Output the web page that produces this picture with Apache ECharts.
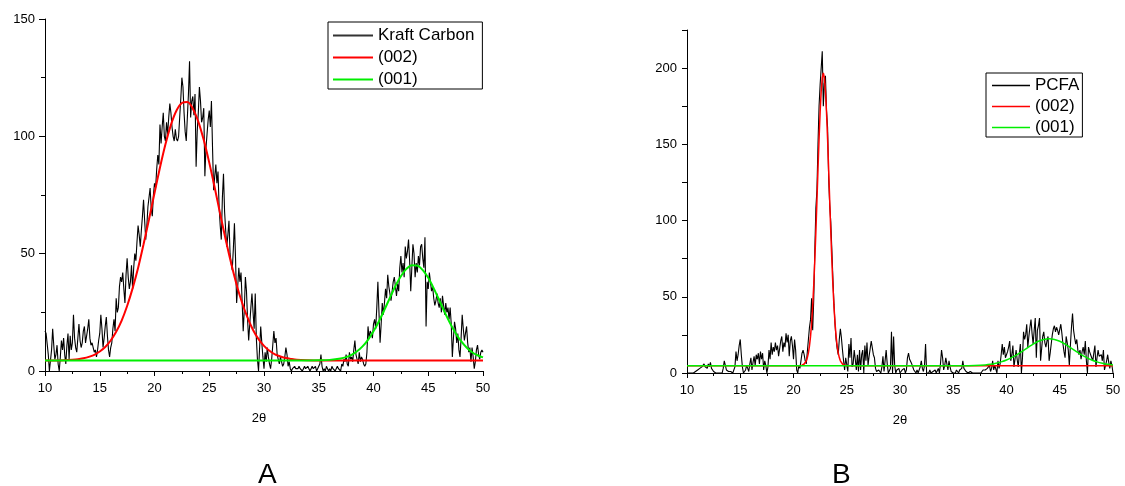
<!DOCTYPE html>
<html>
<head>
<meta charset="utf-8">
<script src="https://cdn.jsdelivr.net/npm/echarts@6/dist/echarts.min.js"></script>
<style>
html,body{margin:0;padding:0;background:#fff;}
#chart{width:1125px;height:486px;}
</style>
</head>
<body>
<div id="chart"></div>
<script>
// ---- Data ----
const X_START = 10;
const X_STEP = 0.1;

// Chart A: Kraft Carbon raw pattern (2θ = 10.0 ... 50.0, step 0.1)
const kraftY = [
17,16,16,7,0,0,9,18,11,5,
7,11,3,0,6,13,9,14,7,3,
11,16,5,15,9,12,24,14,10,8,
14,20,13,10,12,17,19,12,15,18,
22,14,11,12,10,8,9,6,9,13,
16,24,18,10,14,19,23,15,9,6,
10,12,18,22,17,31,25,27,36,40,
38,42,35,29,41,48,40,35,38,45,
35,44,50,47,55,62,58,53,60,66,
73,64,56,62,70,74,78,69,66,75,
80,78,86,92,88,105,97,104,110,100,
98,106,101,108,114,110,104,100,98,103,
99,98,100,108,116,125,121,110,102,98,
108,118,132,108,115,117,109,118,87,102,
110,121,115,106,108,112,83,95,101,107,
111,104,115,95,77,83,88,80,85,70,
62,56,74,84,68,60,53,58,64,50,
46,43,52,63,48,29,36,44,38,42,
30,17,26,40,34,22,13,20,27,33,
25,18,33,14,5,0,10,19,12,6,
1,8,4,10,6,3,1,5,11,17,
12,14,7,5,3,6,4,2,3,6,
10,7,2,4,1,0,1,1,2,1,
1,1,2,1,1,0,1,2,1,1,
2,1,0,1,2,1,1,2,0,1,
2,3,7,2,0,1,0,2,1,0,
1,0,2,1,1,0,0,2,1,1,
0,3,2,5,4,7,3,2,8,5,
6,4,9,13,7,5,3,8,4,6,
5,3,2,3,8,19,14,17,16,14,
20,22,18,27,38,25,12,20,29,24,
29,35,31,41,36,33,30,34,38,40,
36,32,37,34,44,49,42,46,40,53,
48,51,56,47,34,44,54,50,40,46,
42,49,45,53,54,48,44,57,19,38,
35,42,38,34,36,31,28,30,33,29,
27,31,25,32,28,24,29,25,27,22,
27,20,6,14,21,18,12,16,9,6,
14,24,18,13,16,19,12,8,10,4,
10,6,1,4,9,11,7,5,8,9,
8
];

// Chart A fits
const fitA002X = [10,11,12,12.5,13,13.5,14,14.5,15,15.5,16,16.5,17,17.5,18,18.5,19,19.5,20,20.5,21,21.5,22,22.5,23,23.5,24,24.5,25,25.5,26,26.5,27,27.5,28,28.5,29,29.5,30,30.5,31,31.5,32,32.5,33,34,35,40,45,50];
const fitA002Y = [4.5,4.5,4.7,4.8,5.0,5.4,6.0,6.9,8.3,10.2,13.0,16.7,21.5,27.7,35.2,43.9,54.0,64.7,75.8,86.7,96.6,104.9,110.9,114.2,114.6,111.8,106.3,98.4,88.8,78.1,66.9,56.0,45.9,36.8,29.1,22.7,17.5,13.6,10.7,8.6,7.1,6.2,5.5,5.1,4.8,4.6,4.5,4.5,4.5,4.5];
const fitA001X = [10,20,30,34,35,36,37,37.5,38,38.5,39,39.5,40,40.5,41,41.5,42,42.5,43,43.5,44,44.5,45,45.5,46,46.5,47,47.5,48,48.5,49,49.5,50];
const fitA001Y = [4.5,4.5,4.5,4.5,4.56,4.74,5.3,5.9,6.9,8.4,10.5,13.3,16.9,21.2,26.1,31.2,36.2,40.4,43.5,45.1,44.9,43.0,39.7,35.2,30.2,25.1,20.3,16.1,12.7,10.0,8.0,6.7,5.8];

// Chart B: PCFA raw pattern (2θ = 10.0 ... 50.0, step 0.1)
const pcfaY = [
0,0,0,0,0,0,0,0,1,2,
2,1,3,2,4,3,6,4,5,3,
6,4,7,3,2,1,0,0,1,0,
0,0,1,0,3,8,5,2,3,1,
0,1,0,0,0,4,14,8,12,18,
22,12,4,0,0,2,5,3,1,6,
10,2,7,11,5,12,9,13,6,14,
9,13,2,8,5,0,4,15,9,20,
12,17,14,20,15,18,11,16,21,24,
14,20,17,26,20,25,11,21,24,18,
9,22,15,2,0,5,3,8,13,15,
12,8,6,14,22,30,35,49,28,48,
80,108,120,150,175,189,188,211,175,190,
195,172,161,128,110,99,81,62,45,32,
22,16,12,22,29,23,15,8,2,10,
10,1,19,10,23,4,6,15,9,2,
12,1,15,2,12,15,0,18,8,20,
5,11,16,21,22,12,10,3,1,0,
2,1,0,4,11,1,8,15,6,0,
1,3,27,0,24,5,0,2,1,3,
0,1,2,1,3,0,2,10,13,9,
8,6,5,2,1,0,2,0,1,4,
8,3,1,5,19,0,1,0,2,0,
0,1,0,2,0,1,3,0,6,15,
10,2,5,10,6,2,8,4,1,0,
0,1,0,2,1,0,2,1,3,8,
3,2,1,2,0,0,1,0,0,0,
0,0,0,0,0,0,0,1,2,3,
2,1,3,2,5,1,3,8,2,5,
5,0,8,3,6,12,19,12,17,10,
10,14,17,21,8,12,18,4,9,15,
9,4,12,19,0,10,27,22,25,32,
17,24,30,35,26,19,28,36,10,28,
31,36,8,16,24,27,20,17,21,24,
8,13,19,25,29,31,27,30,28,25,
25,32,26,19,14,10,24,20,15,5,
18,30,39,28,23,19,22,15,12,15,
9,14,17,12,21,8,0,17,14,12,
10,8,13,18,4,10,15,11,10,12,
8,15,2,5,8,12,7,3,8,5,
0
];

// Chart B fits
const fitB002X = [10,15,20,20.6,20.8,20.9,21.0,21.1,21.2,21.3,21.4,21.5,21.6,21.7,21.8,21.9,22.0,22.1,22.2,22.3,22.4,22.5,22.6,22.7,22.8,22.9,23.0,23.1,23.2,23.3,23.4,23.5,23.6,23.7,23.8,23.9,24.0,24.1,24.2,24.3,24.4,24.5,24.6,24.7,24.8,25,30,40,50];
const fitB002Y = [4.8,4.8,4.8,4.8,5.1,5.4,5.9,6.7,8.0,10.1,13.2,17.8,24.0,32.6,43.8,57.6,74.0,92.7,112.9,133.6,153.6,171.1,184.9,193.7,196.8,193.7,184.9,171.1,153.6,133.6,112.9,92.7,74.0,57.6,43.8,32.6,24.0,17.8,13.2,10.1,8.0,6.7,5.9,5.4,5.1,4.8,4.8,4.8,4.8];
const fitB001X = [10,20,30,36,37,38,38.5,39,39.5,40,40.5,41,41.5,42,42.5,43,43.5,44,44.5,45,45.5,46,46.5,47,47.5,48,48.5,49,49.5,50];
const fitB001Y = [4.8,4.8,4.8,4.8,4.95,5.3,5.7,6.4,7.3,8.5,10.2,12.1,14.4,16.7,19.0,20.8,22.0,22.4,22.0,20.8,19.0,16.7,14.4,12.1,10.2,8.5,7.3,6.4,5.7,5.3];

// tick labels
const xTicks = [10,15,20,25,30,35,40,45,50];
const yTicksA = [0,50,100,150];
const yTicksB = [0,50,100,150,200];

// ---- Build ----
function rawPairs(ys){ return ys.map((v,i)=>[+(X_START + i*X_STEP).toFixed(1), v]); }
function zipPairs(xs, ys){ return xs.map((x,i)=>[x, ys[i]]); }

const FONT = 'Liberation Sans, Arial, sans-serif';
const BLACK = '#000';
const RED = '#ff0000';
const GREEN = '#00ee00';

function xAxisCfg(gi, namePad){
  return {
    type:'value', gridIndex:gi, min:10, max:50, interval:5,
    axisLine:{show:true, onZero:false, lineStyle:{color:BLACK, width:1}},
    axisTick:{show:true, inside:false, length:5, lineStyle:{color:BLACK}},
    minorTick:{show:true, splitNumber:2, length:3, lineStyle:{color:BLACK}},
    splitLine:{show:false},
    axisLabel:{color:BLACK, fontSize:13, fontFamily:FONT, margin:11,
      formatter:v=> xTicks.indexOf(v)>=0 ? String(v) : ''},
    name:'2θ', nameLocation:'middle', nameGap:41,
    nameTextStyle:{color:BLACK, fontSize:13, fontFamily:FONT, padding:namePad}
  };
}

function legendData(first, firstColor){
  return [
    {name:first, itemStyle:{color:firstColor}},
    {name:'(002)', itemStyle:{color:RED}},
    {name:'(001)', itemStyle:{color:GREEN}}
  ];
}

const option = {
  animation:false,
  backgroundColor:'#fff',
  grid:[
    {left:45, top:19, width:438, height:352},
    {left:687, top:30, width:426, height:343}
  ],
  xAxis:[ xAxisCfg(0,[0,10,0,0]), xAxisCfg(1,[0,0,0,0]) ],
  yAxis:[
    {type:'value', gridIndex:0, min:0, max:150, interval:50,
     axisLine:{show:true, onZero:false, lineStyle:{color:BLACK, width:1}},
     axisTick:{show:true, length:6, lineStyle:{color:BLACK}},
     minorTick:{show:true, splitNumber:2, length:4, lineStyle:{color:BLACK}},
     splitLine:{show:false},
     axisLabel:{color:BLACK, fontSize:13, fontFamily:FONT, margin:10,
       formatter:v=> yTicksA.indexOf(v)>=0 ? String(v) : ''}},
    {type:'value', gridIndex:1, min:0, max:225, interval:25,
     axisLine:{show:true, onZero:false, lineStyle:{color:BLACK, width:1}},
     axisTick:{show:true, length:5, lineStyle:{color:BLACK}},
     splitLine:{show:false},
     axisLabel:{color:BLACK, fontSize:13, fontFamily:FONT, margin:10,
       formatter:v=> yTicksB.indexOf(v)>=0 ? String(v) : ''}}
  ],
  legend:[
    {orient:'vertical', left:328, top:22, data:legendData('Kraft Carbon','#333'),
     icon:'rect', itemWidth:40, itemHeight:2, itemGap:5, padding:[5,8,1,5],
     borderColor:BLACK, borderWidth:1, borderRadius:0, backgroundColor:'#fff',
     selectedMode:false,
     textStyle:{color:BLACK, fontSize:17, fontFamily:FONT, lineHeight:17}},
    {orient:'vertical', left:986, top:73, data:legendData('PCFA',BLACK),
     icon:'rect', itemWidth:38, itemHeight:1.5, itemGap:4, padding:[4,3,1,6],
     borderColor:BLACK, borderWidth:1, borderRadius:0, backgroundColor:'#fff',
     selectedMode:false,
     textStyle:{color:BLACK, fontSize:17, fontFamily:FONT, lineHeight:17}}
  ],
  graphic:[
    {type:'text', left:258, top:461, style:{text:'A', font:'28px Liberation Sans, Arial, sans-serif', fill:BLACK}},
    {type:'text', left:832, top:461, style:{text:'B', font:'28px Liberation Sans, Arial, sans-serif', fill:BLACK}}
  ],
  series:[
    {name:'Kraft Carbon', type:'line', xAxisIndex:0, yAxisIndex:0, data:rawPairs(kraftY),
     symbol:'none', color:BLACK, lineStyle:{color:BLACK, width:1.1}, z:2},
    {name:'(002)', type:'line', xAxisIndex:0, yAxisIndex:0, data:zipPairs(fitA002X, fitA002Y),
     symbol:'none', smooth:0.3, color:RED, lineStyle:{color:RED, width:2}, z:3},
    {name:'(001)', type:'line', xAxisIndex:0, yAxisIndex:0, data:zipPairs(fitA001X, fitA001Y),
     symbol:'none', smooth:0.3, color:GREEN, lineStyle:{color:GREEN, width:2}, z:4},
    {name:'PCFA', type:'line', xAxisIndex:1, yAxisIndex:1, data:rawPairs(pcfaY),
     symbol:'none', color:BLACK, lineStyle:{color:BLACK, width:1.1}, z:2},
    {name:'(002)', type:'line', xAxisIndex:1, yAxisIndex:1, data:zipPairs(fitB002X, fitB002Y),
     symbol:'none', color:RED, lineStyle:{color:RED, width:1.5}, z:3},
    {name:'(001)', type:'line', xAxisIndex:1, yAxisIndex:1, data:zipPairs(fitB001X, fitB001Y),
     symbol:'none', smooth:0.3, color:GREEN, lineStyle:{color:GREEN, width:1.5}, z:4}
  ]
};

const chart = echarts.init(document.getElementById('chart'), null, {renderer:'canvas'});
chart.setOption(option);
</script>
</body>
</html>
